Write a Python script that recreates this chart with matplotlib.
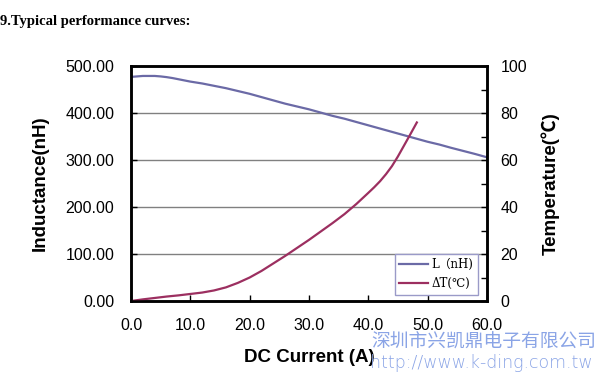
import matplotlib.pyplot as plt
from matplotlib.ticker import MultipleLocator, FormatStrFormatter

# 电感曲线 L (nH) 与 电流 (A)
current_L = [0, 1, 2, 3, 4, 5, 6, 7, 8, 10, 12, 14, 16, 18, 20, 22, 24, 26, 28, 30,
             32, 34, 36, 38, 40, 42, 44, 46, 48, 50, 52, 54, 56, 58, 60]
inductance = [477, 478, 479, 479, 479, 478, 476.5, 474.5, 472, 467, 463, 458, 453, 447, 441,
              434, 427, 420, 414, 408, 401, 394, 388, 381, 374, 367, 360, 353, 346, 339,
              333, 326, 319.5, 313, 306]

# 温升曲线 ΔT (℃)
current_T = [0, 2, 4, 6, 8, 10, 12, 14, 16, 18, 20, 22, 24, 26, 28, 30, 32, 34, 36, 38,
             40, 41, 42, 43, 44, 45, 46, 47, 48.2]
temp_rise = [0, 0.7, 1.3, 1.9, 2.4, 3.0, 3.6, 4.5, 5.8, 7.7, 10, 12.8, 16, 19.2, 22.6, 26,
             29.6, 33.2, 37, 41.3, 46, 48.4, 51, 54, 57.4, 61.5, 66, 70.5, 76]

x_ticks = [0, 10, 20, 30, 40, 50, 60]

c_L = '#6b6aa6'
c_T = '#9c2f60'
tick_font = 'Liberation Sans'

fig = plt.figure(figsize=(6.01, 3.82), dpi=100)
ax = fig.add_axes([0.218, 0.212, 0.592, 0.615])
ax2 = ax.twinx()

lnL, = ax.plot(current_L, inductance, color=c_L, lw=1.6, label='L（nH)')
lnT, = ax2.plot(current_T, temp_rise, color=c_T, lw=1.6, label='ΔT(℃)')

ax.set_xlim(0, 60)
ax.set_ylim(0, 500)
ax2.set_ylim(0, 100)

ax.set_xticks(x_ticks)
ax.xaxis.set_major_formatter(FormatStrFormatter('%.1f'))
ax.yaxis.set_major_locator(MultipleLocator(100))
ax.yaxis.set_major_formatter(FormatStrFormatter('%.2f'))
ax2.yaxis.set_major_locator(MultipleLocator(20))
ax2.yaxis.set_minor_locator(MultipleLocator(10))

# 网格线
for v in [100, 200, 300, 400]:
    ax.axhline(v, color='#808080', lw=1.0, zorder=0)

ax.tick_params(axis='both', direction='in', length=4, width=1, labelsize=11.5)
ax.tick_params(axis='y', pad=12)
ax.tick_params(axis='x', pad=12)
ax2.tick_params(axis='y', which='both', direction='in', length=4, width=1, labelsize=11.5, pad=10)
for lab in ax.get_xticklabels() + ax.get_yticklabels() + ax2.get_yticklabels():
    lab.set_family(tick_font)

for a in (ax, ax2):
    for s in a.spines.values():
        s.set_linewidth(1.8)
        s.set_color('black')

ax.set_xlabel('DC Current (A)', fontsize=13.5, fontweight='bold', family=tick_font, labelpad=12)
ax.set_ylabel('Inductance(nH)', fontsize=13.5, fontweight='bold', family=tick_font, labelpad=12)
ax2.set_ylabel('Temperature(℃)', fontsize=13.5, fontweight='bold',
               family=[tick_font, 'Noto Sans CJK SC'], labelpad=10)

leg = ax.legend(handles=[lnL, lnT], loc='lower right', bbox_to_anchor=(0.975, 0.026),
                borderaxespad=0, fancybox=False, framealpha=1, handlelength=2.4,
                prop={'family': ['DejaVu Serif', 'Noto Sans CJK SC'], 'size': 8.5},
                labelspacing=0.5, handletextpad=0.3)
leg.get_frame().set_edgecolor('#9a9ac8')
leg.get_frame().set_linewidth(1.0)

# 标题
fig.text(0.0, 0.945, '9.Typical performance curves:', fontsize=10.5, fontweight='bold',
         family='Liberation Serif', ha='left', va='center')

# 水印
fig.text(0.618, 0.105, '深圳市兴凯鼎电子有限公司', fontsize=13.5, color='#8aa4e6',
         family='Noto Sans CJK SC', fontweight='light', ha='left', va='center')
fig.text(0.615, 0.05, 'http://www.k-ding.com.tw', fontsize=12.5, color='#8aa4e6',
         family='DejaVu Sans', fontweight='light', ha='left', va='center')

fig.savefig('out.png', dpi=100)
